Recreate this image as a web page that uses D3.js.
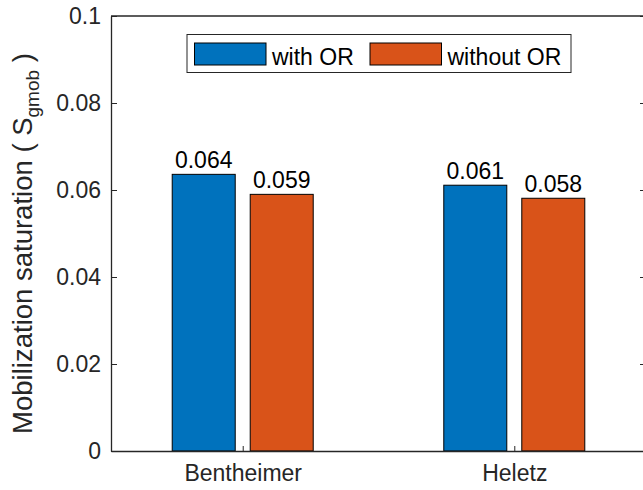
<!DOCTYPE html>
<html>
<head>
<meta charset="utf-8">
<script src="https://cdn.jsdelivr.net/npm/d3@7"></script>
<style>
  html, body { margin: 0; padding: 0; background: #fff; }
  svg { display: block; font-family: "Liberation Sans", Arial, sans-serif; }
</style>
</head>
<body>
<svg id="chart" width="643" height="490"></svg>
<script>
// Sites on the x axis
const categories = ["Bentheimer", "Heletz"];
// Series names (legend order)
const seriesNames = ["with OR", "without OR"];
// Mobilization saturation per site
const withOR = [0.0636, 0.0611];
const withoutOR = [0.0590, 0.0581];
// Y axis tick values
const yTicks = [0, 0.02, 0.04, 0.06, 0.08, 0.1];

const colors = ["#0072BD", "#D95319"];
const axisColor = "#262626";
const fontSize = 23;

const svg = d3.select("#chart");
const plot = { left: 111, right: 646, top: 16, bottom: 451 };

const x = d3.scalePoint().domain(categories).range([plot.left, plot.right]).padding(0.485);
const y = d3.scaleLinear().domain([0, 0.1]).range([plot.bottom, plot.top]);
const groupWidth = 141;
const xSub = d3.scaleBand().domain(seriesNames)
  .range([-groupWidth / 2, groupWidth / 2]).paddingInner(15 / 78);

const data = categories.map((c, i) => ({
  cat: c,
  values: [
    { name: seriesNames[0], v: withOR[i], color: colors[0] },
    { name: seriesNames[1], v: withoutOR[i], color: colors[1] }
  ]
}));

// Bars
const groups = svg.append("g").selectAll("g").data(data).join("g")
  .attr("transform", d => `translate(${x(d.cat)},0)`);

groups.selectAll("rect").data(d => d.values).join("rect")
  .attr("x", d => xSub(d.name))
  .attr("y", d => y(d.v))
  .attr("width", xSub.bandwidth())
  .attr("height", d => y(0) - y(d.v))
  .attr("fill", d => d.color)
  .attr("stroke", "#000")
  .attr("stroke-width", 1);

// Value labels
groups.selectAll("text.val").data(d => d.values).join("text")
  .attr("class", "val")
  .attr("x", d => xSub(d.name) + xSub.bandwidth() / 2)
  .attr("y", d => y(d.v) - 6)
  .attr("text-anchor", "middle")
  .attr("font-size", fontSize)
  .attr("fill", "#000")
  .text(d => d3.format(".3f")(d.v));

// Axes box
const yAxisL = d3.axisLeft(y).tickValues(yTicks).tickSizeInner(-6).tickSizeOuter(0)
  .tickPadding(10).tickFormat(d => d === 0 ? "0" : d3.format("~g")(d));
const yAxisR = d3.axisRight(y).tickValues(yTicks).tickSizeInner(-6).tickSizeOuter(0).tickFormat("");
const xAxisB = d3.axisBottom(x).tickSizeInner(-5).tickSizeOuter(0).tickPadding(14);

const gL = svg.append("g").attr("transform", `translate(${plot.left},0)`).call(yAxisL);
const gR = svg.append("g").attr("transform", `translate(${plot.right},0)`).call(yAxisR);
const gB = svg.append("g").attr("transform", `translate(0,${plot.bottom})`).call(xAxisB);
svg.append("line").attr("x1", plot.left).attr("x2", plot.right)
  .attr("y1", plot.top).attr("y2", plot.top)
  .attr("stroke", axisColor).attr("stroke-width", 1.3);

[gL, gR, gB].forEach(g => {
  g.select(".domain").attr("stroke", axisColor).attr("stroke-width", 1.3);
  g.selectAll(".tick line").attr("stroke", axisColor).attr("stroke-width", 1);
  g.selectAll(".tick text").attr("fill", axisColor).attr("font-size", fontSize)
    .attr("font-family", "Liberation Sans, Arial, sans-serif");
});
gL.selectAll(".tick text").attr("dy", "0.34em");
gB.selectAll(".tick text").attr("dy", "0.71em");

// Y axis label with subscript
const yl = svg.append("text")
  .attr("transform", `translate(32,${(plot.top + plot.bottom) / 2 + 10}) rotate(-90)`)
  .attr("text-anchor", "middle")
  .attr("font-size", 27.5)
  .attr("fill", axisColor);
yl.append("tspan").text("Mobilization saturation ( S");
yl.append("tspan").attr("font-size", 19).attr("dy", 7).text("gmob");
yl.append("tspan").attr("dy", -7).text(" )");

// Legend
const legend = svg.append("g");
legend.append("rect")
  .attr("x", 187).attr("y", 34.5).attr("width", 384).attr("height", 38)
  .attr("fill", "#fff").attr("stroke", axisColor).attr("stroke-width", 1);
const legendItems = [
  { name: seriesNames[0], color: colors[0], x: 194.5, tx: 272 },
  { name: seriesNames[1], color: colors[1], x: 370, tx: 447.5 }
];
legendItems.forEach(it => {
  legend.append("rect").attr("x", it.x).attr("y", 43).attr("width", 71.5).attr("height", 22)
    .attr("fill", it.color).attr("stroke", "#000").attr("stroke-width", 1);
  legend.append("text").attr("x", it.tx).attr("y", 64.5)
    .attr("font-size", fontSize).attr("fill", "#000").text(it.name);
});
</script>
</body>
</html>
